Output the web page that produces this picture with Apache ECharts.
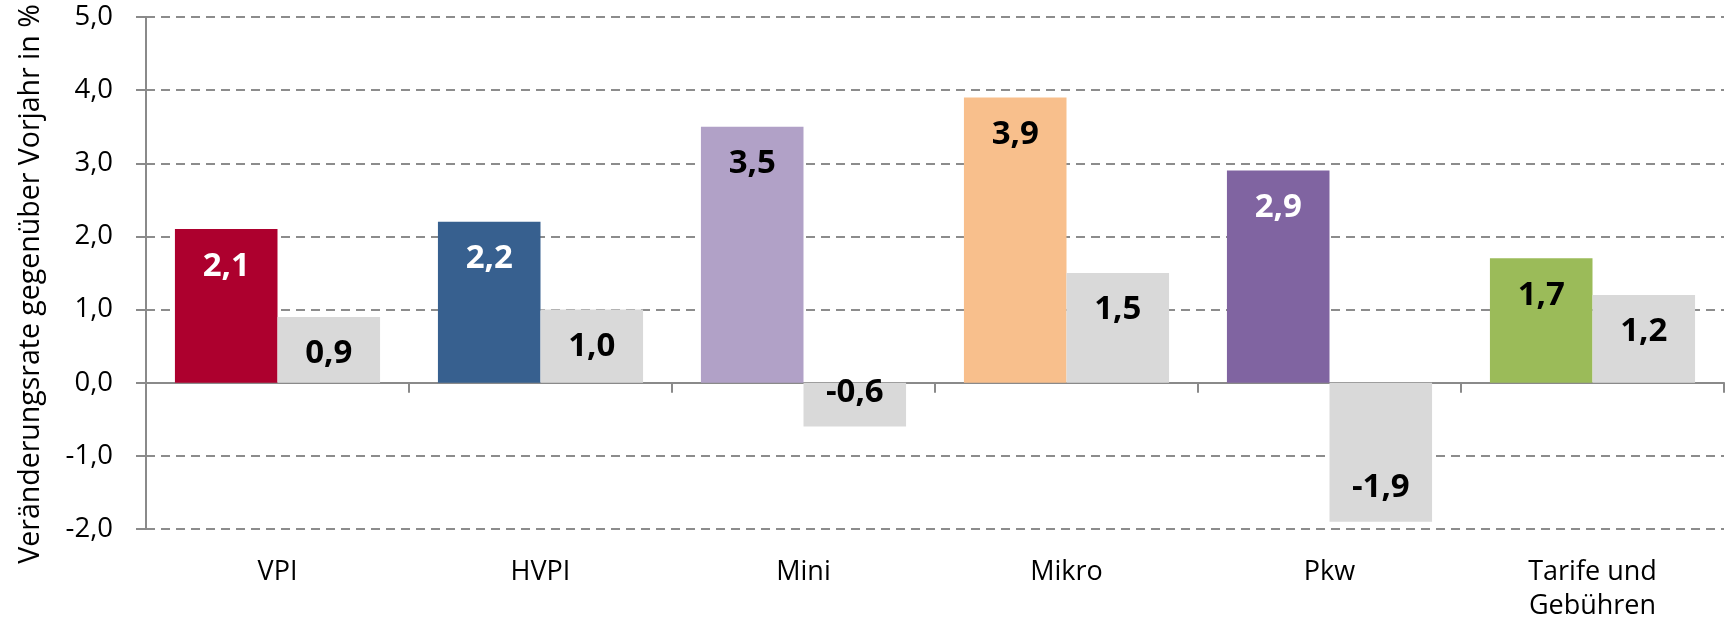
<!DOCTYPE html>
<html>
<head>
<meta charset="utf-8">
<script src="https://cdn.jsdelivr.net/npm/echarts@6/dist/echarts.min.js"></script>
<style>
    html, body { margin: 0; padding: 0; background: #fff; }
    #main { width: 1725px; height: 622px; }
</style>
</head>
<body>
<div id="main"></div>
<script>
// Kategorien und Werte (Veränderung gegenüber Vorjahr in %)
var categories = ['VPI', 'HVPI', 'Mini', 'Mikro', 'Pkw', 'Tarife und\nGebühren'];
var currentYear = [2.1, 2.2, 3.5, 3.9, 2.9, 1.7];
var previousYear = [0.9, 1.0, -0.6, 1.5, -1.9, 1.2];
var barColors = ['#ad002e', '#37608f', '#b1a1c7', '#f8bf8c', '#8064a1', '#9bbb59'];
var labelColors = ['#fff', '#fff', '#000', '#000', '#fff', '#000'];
var yTicks = [-2, -1, 0, 1, 2, 3, 4, 5];

var FONT = 'Open Sans';

function fmt(v) {
    return v.toFixed(1).replace('.', ',');
}

function labelFor(v, color) {
    return {
        show: true,
        position: v < 0 ? 'insideBottom' : 'insideTop',
        distance: v < 0 ? 17 : 20,
        color: color,
        fontFamily: FONT,
        fontWeight: 'bold',
        fontSize: 33,
        lineHeight: 34,
        formatter: function (p) { return fmt(p.value); }
    };
}

var chart = echarts.init(document.getElementById('main'));

chart.setOption({
    backgroundColor: '#ffffff',
    animation: false,
    grid: {
        left: 146,
        right: 1,
        top: 17,
        bottom: 93,
        outerBoundsMode: 'none'
    },
    xAxis: [
        {
            // Beschriftungen unten
            type: 'category',
            data: categories,
            position: 'bottom',
            axisLine: { show: false, onZero: false },
            axisTick: { show: false },
            axisLabel: {
                color: '#000',
                fontFamily: FONT,
                fontSize: 27,
                lineHeight: 34,
                margin: 26,
                interval: 0
            }
        },
        {
            // Nulllinie mit Teilstrichen
            type: 'category',
            data: categories,
            position: 'bottom',
            axisLine: { show: true, onZero: true, lineStyle: { color: '#8a8a8a', width: 2 } },
            axisTick: { show: true, length: 10, lineStyle: { color: '#8a8a8a', width: 2 } },
            axisLabel: { show: false }
        }
    ],
    yAxis: {
        type: 'value',
        min: yTicks[0],
        max: yTicks[yTicks.length - 1],
        interval: 1,
        name: 'Veränderungsrate gegenüber Vorjahr in %',
        nameLocation: 'middle',
        nameGap: 101,
        nameTextStyle: {
            color: '#000',
            fontFamily: FONT,
            fontSize: 28.5,
            padding: [0, 22, 0, 0]
        },
        axisLine: { show: true, lineStyle: { color: '#8a8a8a', width: 2 } },
        axisTick: { show: true, length: 10, lineStyle: { color: '#8a8a8a', width: 2 } },
        axisLabel: {
            color: '#000',
            fontFamily: FONT,
            fontSize: 27.5,
            margin: 33,
            formatter: function (v) { return fmt(v); }
        },
        splitLine: {
            show: true,
            lineStyle: { color: '#8c8c8c', width: 2, type: [9, 6] }
        }
    },
    series: [
        {
            type: 'bar',
            barGap: '0%',
            barCategoryGap: '22%',
            data: currentYear.map(function (v, i) {
                return {
                    value: v,
                    itemStyle: { color: barColors[i] },
                    label: labelFor(v, labelColors[i])
                };
            })
        },
        {
            type: 'bar',
            barGap: '0%',
            barCategoryGap: '22%',
            itemStyle: { color: '#d9d9d9' },
            data: previousYear.map(function (v) {
                return {
                    value: v,
                    label: labelFor(v, '#000')
                };
            })
        }
    ]
});
</script>
</body>
</html>
